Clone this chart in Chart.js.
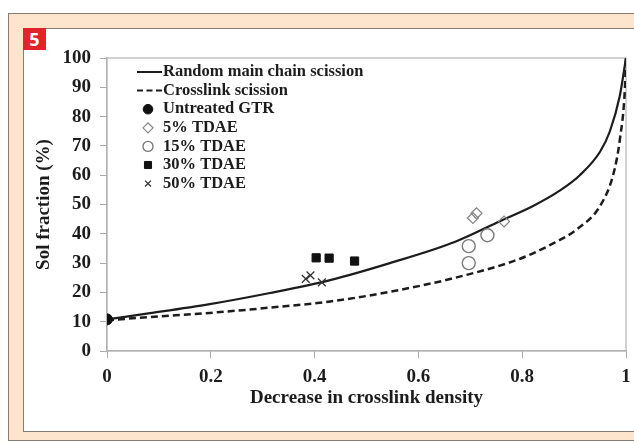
<!DOCTYPE html>
<html>
<head>
<meta charset="utf-8">
<script src="https://cdn.jsdelivr.net/npm/chart.js@4.4.1/dist/chart.umd.min.js"></script>
<style>
html, body { margin: 0; padding: 0; background: #fff; }
#wrap { position: relative; width: 634px; height: 444px; overflow: hidden; }
#outer { position: absolute; left: 8px; top: 13px; width: 700px; height: 428px; box-sizing: border-box;
  background: #fde4cd; border: 1.5px solid #877a70; }
#inner { position: absolute; left: 23px; top: 28px; width: 700px; height: 404px; box-sizing: border-box;
  background: #fff; border: 1.5px solid #877a70; }
#tag { position: absolute; left: 23px; top: 28px; width: 23px; height: 22px; background: #e3232b;
  color: #fff; font: bold 18px "Open Sans"; text-align: center; line-height: 22px; }
#grafica { position: absolute; left: 0; top: 0; }
</style>
</head>
<body>
<div id="wrap">
  <div id="outer"></div>
  <div id="inner"></div>
  <div id="tag">5</div>
  <canvas id="grafica" width="634" height="444"></canvas>
</div>
<script>
// curves
const mainChainX = [0, 0.083, 0.198, 0.314, 0.43, 0.545, 0.671, 0.757, 0.821, 0.873, 0.911, 0.95, 0.969, 0.988, 1];
const mainChainY = [10.8, 12.9, 16.0, 19.8, 24.2, 30.0, 37.3, 44.3, 49.5, 54.8, 60.0, 68.0, 75.0, 87.0, 100];
const crosslinkX = [0, 0.083, 0.198, 0.314, 0.43, 0.545, 0.671, 0.796, 0.854, 0.905, 0.95, 0.976, 0.988, 0.998, 1];
const crosslinkY = [10.5, 11.6, 13.0, 14.8, 16.9, 20.2, 25.0, 31.5, 36.2, 41.5, 49.5, 60.6, 72, 90, 100];

// measured points
const untreatedX = [0];
const untreatedY = [10.8];
const tdae5X = [0.705, 0.712, 0.765];
const tdae5Y = [45.4, 47.0, 44.2];
const tdae15X = [0.697, 0.733, 0.697];
const tdae15Y = [35.8, 39.5, 30.0];
const tdae30X = [0.403, 0.428, 0.477];
const tdae30Y = [31.8, 31.7, 30.7];
const tdae50X = [0.383, 0.392, 0.414];
const tdae50Y = [24.6, 25.8, 23.4];

const xTicks = [0, 0.2, 0.4, 0.6, 0.8, 1];
const yTicks = [0, 10, 20, 30, 40, 50, 60, 70, 80, 90, 100];

const pts = (xs, ys) => xs.map((x, i) => ({x: x, y: ys[i]}));

const serif = '"Liberation Serif", "Times New Roman", serif';
const ink = '#1c1c1c';

const data = {
    datasets: [
        {
            label: 'Random main chain scission',
            data: pts(mainChainX, mainChainY),
            showLine: true, pointRadius: 0, borderColor: ink, borderWidth: 2.2,
            cubicInterpolationMode: 'monotone', order: 2,
        },
        {
            label: 'Crosslink scission',
            data: pts(crosslinkX, crosslinkY),
            showLine: true, pointRadius: 0, borderColor: ink, borderWidth: 2.5, borderDash: [7, 4],
            cubicInterpolationMode: 'monotone', order: 2,
        },
        {
            label: 'Untreated GTR',
            data: pts(untreatedX, untreatedY),
            pointStyle: 'circle', pointRadius: 5.5, backgroundColor: '#111', borderColor: '#111',
            pointBorderWidth: 1, legendRadius: 4.8, order: 1,
        },
        {
            label: '5% TDAE',
            data: pts(tdae5X, tdae5Y),
            pointStyle: 'rectRot', pointRadius: 5.5, backgroundColor: 'rgba(0,0,0,0)', borderColor: '#858585',
            pointBorderWidth: 1.2, legendRadius: 5, order: 1,
        },
        {
            label: '15% TDAE',
            data: pts(tdae15X, tdae15Y),
            pointStyle: 'circle', pointRadius: 6.5, backgroundColor: 'rgba(0,0,0,0)', borderColor: '#7a7a7a',
            pointBorderWidth: 1.4, legendRadius: 5, order: 1,
        },
        {
            label: '30% TDAE',
            data: pts(tdae30X, tdae30Y),
            pointStyle: 'rect', pointRadius: 5.8, backgroundColor: '#111', borderColor: '#111',
            pointBorderWidth: 1, legendRadius: 5, order: 1,
        },
        {
            label: '50% TDAE',
            data: pts(tdae50X, tdae50Y),
            pointStyle: 'crossRot', pointRadius: 5.5, backgroundColor: '#333', borderColor: '#333',
            pointBorderWidth: 1.3, legendRadius: 4.2, order: 1,
        }
    ]
};

// gray frame round the plot area
const plotFrame = {
    id: 'plotFrame',
    beforeDatasetsDraw(chart) {
        const a = chart.chartArea, ctx = chart.ctx;
        ctx.save();
        ctx.strokeStyle = '#b5b5b5';
        ctx.lineWidth = 1.2;
        ctx.strokeRect(a.left, a.top, a.right - a.left, a.bottom - a.top);
        ctx.restore();
    }
};

// legend inside the plot, top left
const insideLegend = {
    id: 'insideLegend',
    afterDraw(chart) {
        const ctx = chart.ctx;
        ctx.save();
        ctx.font = 'bold 16.5px ' + serif;
        ctx.textBaseline = 'middle';
        ctx.textAlign = 'left';
        chart.data.datasets.forEach((ds, i) => {
            const y = 72 + i * 18.6;
            if (ds.showLine) {
                ctx.strokeStyle = ds.borderColor;
                ctx.lineWidth = 2;
                ctx.setLineDash(ds.borderDash ? [6, 3.5] : []);
                ctx.beginPath();
                ctx.moveTo(137, y);
                ctx.lineTo(162, y);
                ctx.stroke();
                ctx.setLineDash([]);
            } else {
                ctx.fillStyle = ds.backgroundColor;
                ctx.strokeStyle = ds.borderColor;
                ctx.lineWidth = ds.pointBorderWidth;
                Chart.helpers.drawPoint(ctx, {pointStyle: ds.pointStyle, radius: ds.legendRadius,
                    borderWidth: ds.pointBorderWidth, rotation: 0}, 148, y);
            }
            ctx.fillStyle = ink;
            ctx.fillText(ds.label, 163, y);
        });
        ctx.restore();
    }
};

const config = {
    type: 'scatter',
    data: data,
    plugins: [plotFrame, insideLegend],
    options: {
        responsive: false,
        animation: false,
        events: [],
        layout: {padding: {left: 28, top: 58, right: 8, bottom: 35}},
        plugins: {legend: {display: false}, tooltip: {enabled: false}},
        scales: {
            x: {
                type: 'linear', min: 0, max: 1,
                afterBuildTicks: s => { s.ticks = xTicks.map(v => ({value: v})); },
                afterFit: s => { s.height = 58; s.paddingRight = 0; s.paddingLeft = 0; },
                grid: {drawOnChartArea: false, drawTicks: true, tickLength: 7, color: '#aaa'},
                border: {color: '#aaa', width: 1.2},
                ticks: {color: ink, padding: 8, callback: v => String(v),
                    font: {family: serif, size: 19, weight: 'bold'}},
                title: {display: true, text: 'Decrease in crosslink density', color: ink,
                    padding: {top: 0, bottom: 0}, font: {family: serif, size: 19, weight: 'bold'}}
            },
            y: {
                type: 'linear', min: 0, max: 100,
                afterBuildTicks: s => { s.ticks = yTicks.map(v => ({value: v})); },
                afterFit: s => { s.width = 79; },
                grid: {drawOnChartArea: false, drawTicks: true, tickLength: 7, color: '#aaa'},
                border: {color: '#aaa', width: 1.2},
                ticks: {color: ink, padding: 9, callback: v => String(v),
                    font: {family: serif, size: 19, weight: 'bold'}},
                title: {display: true, text: 'Sol fraction (%)', color: ink,
                    padding: {top: 5, bottom: 0}, font: {family: serif, size: 19, weight: 'bold'}}
            }
        }
    }
};

const ctx = document.getElementById('grafica').getContext('2d');
const graficaSol = new Chart(ctx, config);
</script>
</body>
</html>
